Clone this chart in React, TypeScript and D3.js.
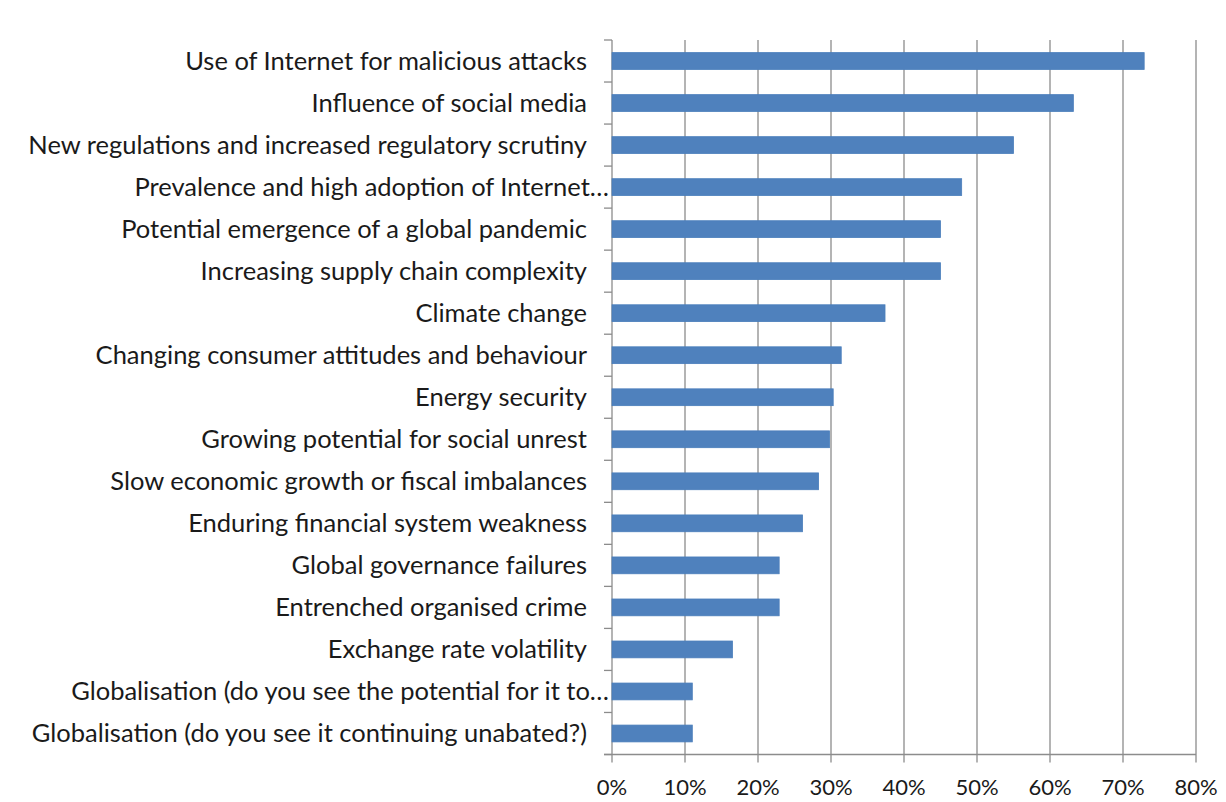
import React from "react";
import * as d3 from "d3";

const categories: string[] = [
  "Use of Internet for malicious attacks",
  "Influence of social media",
  "New regulations and increased regulatory scrutiny",
  "Prevalence and high adoption of Internet…",
  "Potential emergence of a global pandemic",
  "Increasing supply chain complexity",
  "Climate change",
  "Changing consumer attitudes and behaviour",
  "Energy security",
  "Growing potential for social unrest",
  "Slow economic growth or fiscal imbalances",
  "Enduring financial system weakness",
  "Global governance failures",
  "Entrenched organised crime",
  "Exchange rate volatility",
  "Globalisation (do you see the potential for it to…",
  "Globalisation (do you see it continuing unabated?)",
];

const values: number[] = [
  0.729, 0.632, 0.55, 0.479, 0.45, 0.45, 0.374, 0.314, 0.303, 0.298, 0.283,
  0.261, 0.229, 0.229, 0.165, 0.11, 0.11,
];

const xTicks: number[] = [0, 0.1, 0.2, 0.3, 0.4, 0.5, 0.6, 0.7, 0.8];

const W = 1226;
const H = 802;
const left = 612;
const right = 1196;
const top = 40;
const bottom = 754.5;
const font = "Lato, 'Open Sans', sans-serif";

export default function App() {
  const x = d3.scaleLinear().domain([0, 0.8]).range([left, right]);
  const y = d3
    .scaleBand<string>()
    .domain(categories)
    .range([top, bottom])
    .paddingInner(0.6)
    .paddingOuter(0.3);
  const step = (bottom - top) / categories.length;
  const fmt = d3.format(".0%");

  return (
    <svg
      width={W}
      height={H}
      style={{ position: "absolute", left: 0, top: 0, background: "#fff" }}
    >
      <rect x={0} y={0} width={W} height={H} fill="#fff" />
      {xTicks.map((t) => (
        <line
          key={"g" + t}
          x1={x(t)}
          x2={x(t)}
          y1={top}
          y2={bottom + 8}
          stroke="#8c8c8c"
          strokeWidth={1.3}
        />
      ))}
      <line x1={left - 8} x2={right} y1={bottom} y2={bottom} stroke="#8c8c8c" strokeWidth={1.3} />
      {d3.range(categories.length + 1).map((i) => (
        <line
          key={"yt" + i}
          x1={left - 8}
          x2={left}
          y1={top + i * step}
          y2={top + i * step}
          stroke="#8c8c8c"
          strokeWidth={1.3}
        />
      ))}
      {categories.map((c, i) => (
        <rect
          key={"b" + c}
          x={x(0)}
          y={y(c)}
          width={x(values[i]) - x(0)}
          height={y.bandwidth()}
          fill="#4F81BD"
          stroke="#4A7EBB"
          strokeWidth={0.8}
        />
      ))}
      {categories.map((c) => (
        <text
          key={"l" + c}
          x={c.endsWith("…") ? left - 3 : left - 25}
          y={(y(c) as number) + y.bandwidth() / 2}
          dy="0.35em"
          textAnchor="end"
          fontFamily={font}
          fontSize={25.5}
          fill="#1a1a1a"
        >
          {c}
        </text>
      ))}
      {xTicks.map((t) => (
        <text
          key={"xt" + t}
          x={x(t)}
          y={795}
          textAnchor="middle"
          fontFamily={font}
          fontSize={22}
          fill="#1a1a1a"
        >
          {fmt(t)}
        </text>
      ))}
    </svg>
  );
}
